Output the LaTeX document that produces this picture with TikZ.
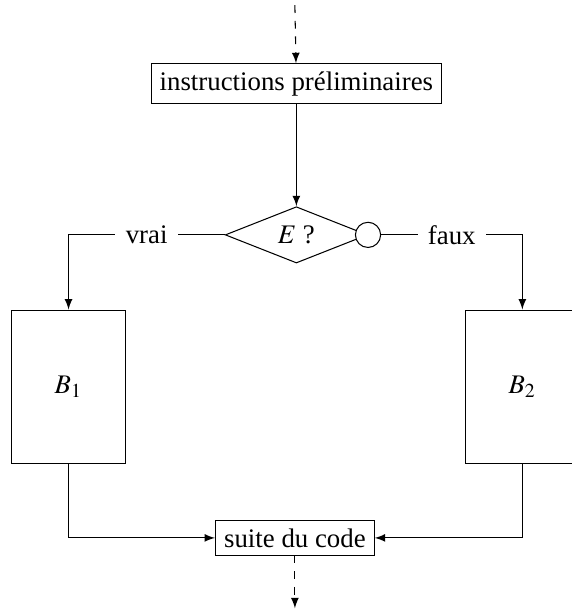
\documentclass[tikz,border=0pt]{standalone}
\usepackage{mathptmx}
\usepackage{fontspec}
\setmainfont{Liberation Serif}
\usetikzlibrary{arrows,positioning,shapes.geometric}

\begin{document}
\begin{tikzpicture}[>=latex, font=\fontsize{10.3pt}{12.4pt}\selectfont,
  bloc/.style={draw, inner xsep=3.3pt, inner ysep=3pt},
  grand/.style={draw, minimum width=1.53cm, minimum height=2.07cm},
  etiq/.style={fill=white, inner sep=4pt}]
\useasboundingbox (0,0) rectangle (7.71,-8.26);
\node[bloc] (prelim) at (4.0,-1.13) {instructions préliminaires};
\node[draw, diamond, aspect=2.5, minimum width=1.92cm, minimum height=0.76cm, inner sep=0pt] (test) at (4.0,-3.17) {$E$~?};
\node[draw, circle, fill=white, minimum size=0.34cm, inner sep=0pt] (non) at (test.east) {};
\node[grand] (b1) at (0.925,-5.22) {$B_1$};
\node[grand] (b2) at (7.05,-5.22) {$B_2$};
\node[bloc] (suite) at (3.98,-7.26) {suite du code};
\coordinate (entree) at (3.98,-0.07);
\coordinate (sortie) at (3.98,-8.21);

\draw[->, dashed] (entree) -- (prelim);
\draw[->] (prelim) -- (test);
\draw[->] (test.west) -| node[pos=0.25, etiq] {vrai} (b1.north);
\draw[->] (non.east) -| node[pos=0.25, etiq] {faux} (b2.north);
\draw[->] (b1.south) |- (suite.west);
\draw[->] (b2.south) |- (suite.east);
\draw[->, dashed] (suite) -- (sortie);
\end{tikzpicture}
\end{document}
